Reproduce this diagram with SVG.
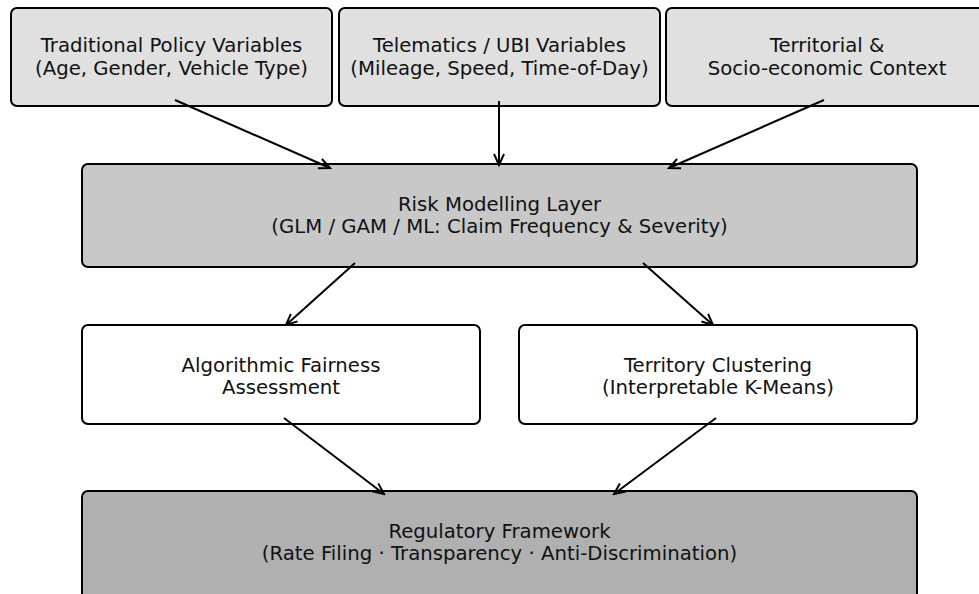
<svg xmlns="http://www.w3.org/2000/svg" width="979" height="594" viewBox="0 0 979 594">
<defs>
<style>
.box{stroke:#000;stroke-width:2}
.t{font-family:"DejaVu Sans",sans-serif;font-size:19.7px;fill:#111;text-anchor:middle}
.c{stroke:#000;stroke-width:2;fill:none;marker-end:url(#ah)}
</style>
<marker id="ah" markerUnits="userSpaceOnUse" markerWidth="14" markerHeight="14" refX="12" refY="6" orient="auto" viewBox="0 0 14 12">
<path d="M1,1 L12,6 L1,11" fill="none" stroke="#000" stroke-width="2"/>
</marker>
</defs>
<rect width="979" height="594" fill="#fff"/>
<g id="traditional">
<rect class="box" x="11" y="8" width="321" height="98" rx="6" fill="#e0e0e0"/>
<text class="t" x="171.5" y="52">Traditional Policy Variables</text>
<text class="t" x="171.5" y="74.5">(Age, Gender, Vehicle Type)</text>
</g>
<g id="telematics">
<rect class="box" x="339" y="8" width="321" height="98" rx="6" fill="#e0e0e0"/>
<text class="t" x="499.5" y="52">Telematics / UBI Variables</text>
<text class="t" x="499.5" y="74.5">(Mileage, Speed, Time-of-Day)</text>
</g>
<g id="territorial">
<rect class="box" x="666" y="8" width="321" height="98" rx="6" fill="#e0e0e0"/>
<text class="t" x="827" y="52">Territorial &amp;</text>
<text class="t" x="827" y="74.5">Socio-economic Context</text>
</g>
<g id="risk">
<rect class="box" x="82" y="164" width="835" height="103" rx="6" fill="#c8c8c8"/>
<text class="t" x="499.5" y="211">Risk Modelling Layer</text>
<text class="t" x="499.5" y="233">(GLM / GAM / ML: Claim Frequency &amp; Severity)</text>
</g>
<g id="fairness">
<rect class="box" x="82" y="325" width="398" height="99" rx="6" fill="#fff"/>
<text class="t" x="281" y="371.5">Algorithmic Fairness</text>
<text class="t" x="281" y="393.5">Assessment</text>
</g>
<g id="territory">
<rect class="box" x="519" y="325" width="398" height="99" rx="6" fill="#fff"/>
<text class="t" x="718" y="371.5">Territory Clustering</text>
<text class="t" x="718" y="393.5">(Interpretable K-Means)</text>
</g>
<g id="regulatory">
<rect class="box" x="82" y="491" width="835" height="110" rx="6" fill="#b0b0b0"/>
<text class="t" x="499.5" y="537.5">Regulatory Framework</text>
<text class="t" x="499.5" y="560">(Rate Filing · Transparency · Anti-Discrimination)</text>
</g>
<g id="connectors">
<line class="c" x1="175" y1="100" x2="330" y2="168"/>
<line class="c" x1="499" y1="101" x2="499" y2="165"/>
<line class="c" x1="824" y1="100" x2="669" y2="168"/>
<line class="c" x1="355" y1="263" x2="286" y2="325"/>
<line class="c" x1="643" y1="263" x2="713" y2="325"/>
<line class="c" x1="284" y1="418" x2="384" y2="494"/>
<line class="c" x1="716" y1="418" x2="614" y2="494"/>
</g>
</svg>
